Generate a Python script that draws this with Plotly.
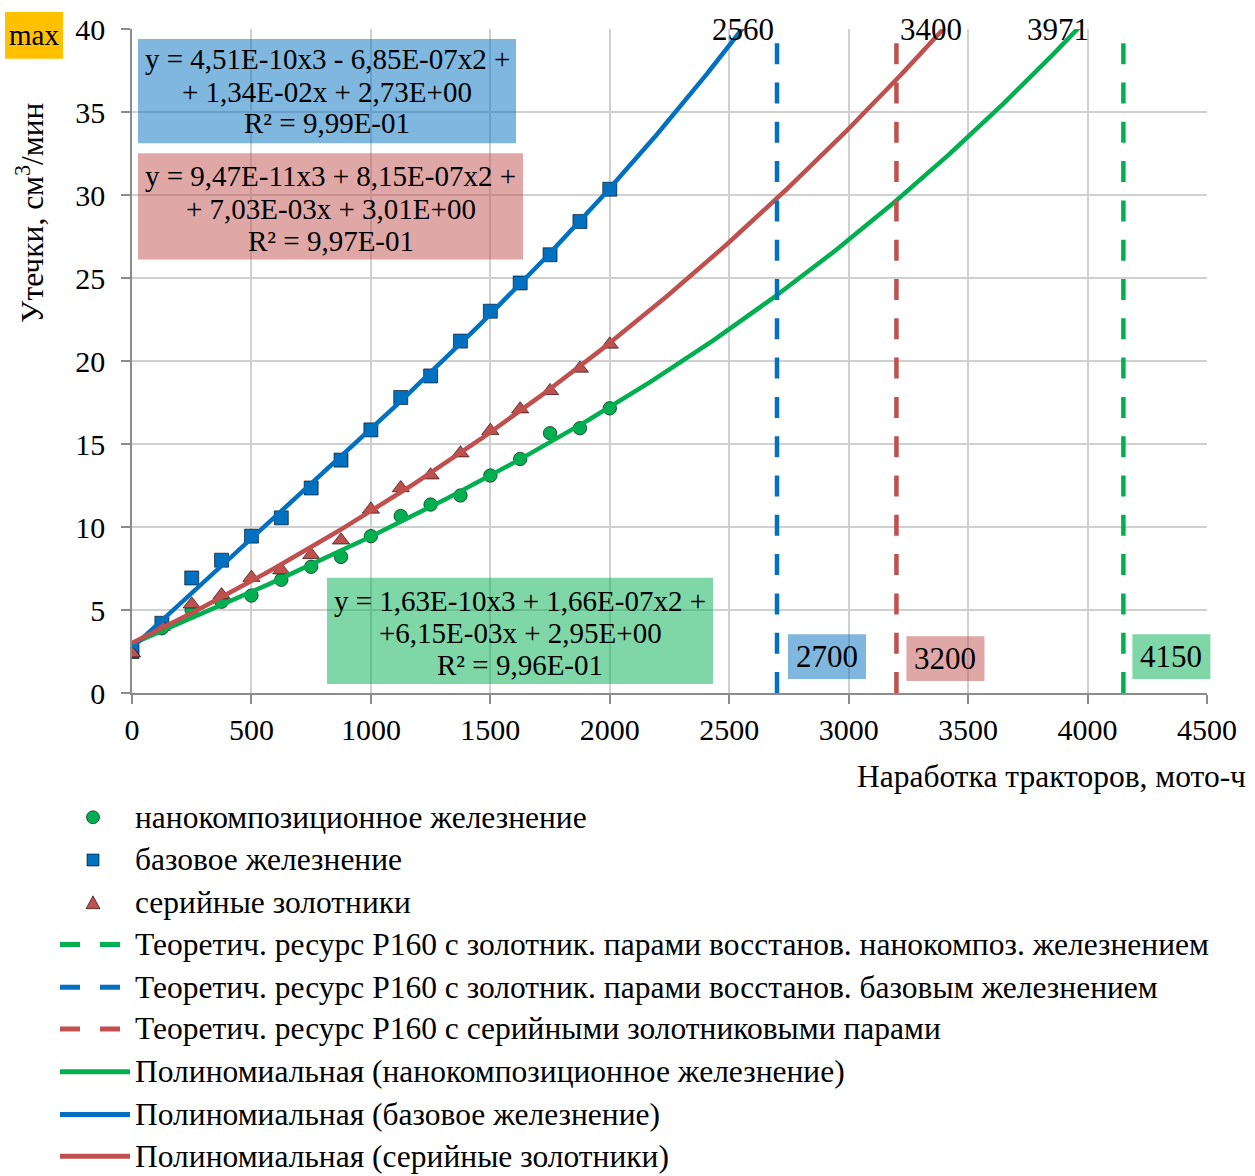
import numpy as np
import plotly.graph_objects as go

# Operating hours of the tractors at each inspection
hours = [0, 125, 250, 375, 500, 625, 750, 875, 1000, 1125, 1250, 1375, 1500, 1625, 1750, 1875, 2000]

# Leakage, cm3/min
leak_nano = [2.5, 3.9, 5.0, 5.5, 5.87, 6.82, 7.6, 8.2, 9.45, 10.66, 11.35, 11.9, 13.1, 14.1, 15.65, 15.95, 17.15]
leak_base = [2.5, 4.2, 6.93, 8.0, 9.45, 10.55, 12.35, 14.03, 15.85, 17.8, 19.1, 21.2, 23.0, 24.7, 26.4, 28.4, 30.35]
leak_serial = [2.4, 4.0, 5.35, 5.9, 6.95, 7.4, 8.32, 9.2, 11.06, 12.35, 13.12, 14.45, 15.8, 17.1, 18.2, 19.55, 21.0]

# Cubic trend coefficients (x^3, x^2, x, 1) as printed in the fit boxes
coef_nano = [1.63e-10, 1.66e-07, 6.15e-03, 2.95]
coef_base = [4.51e-10, -6.85e-07, 1.34e-02, 2.73]
coef_serial = [9.47e-11, 8.15e-07, 7.03e-03, 3.01]

# Hours at which each trend reaches the max leakage
end_nano, end_base, end_serial = 3971, 2560, 3400
# Theoretical resource of the P160 distributor
res_nano, res_base, res_serial = 4150, 2700, 3200
leak_max = 40

eq_base = ["y = 4,51E-10x3 - 6,85E-07x2 +", "+ 1,34E-02x + 2,73E+00", "R² = 9,99E-01"]
eq_serial = ["y = 9,47E-11x3 + 8,15E-07x2 +", "+ 7,03E-03x + 3,01E+00", "R² = 9,97E-01"]
eq_nano = ["y = 1,63E-10x3 + 1,66E-07x2 +", "+6,15E-03x + 2,95E+00", "R² = 9,96E-01"]

names_pts = ["нанокомпозиционное железнение", "базовое железнение", "серийные золотники"]
names_res = ["Теоретич. ресурс Р160 с золотник. парами восстанов. нанокомпоз. железнением",
             "Теоретич. ресурс Р160 с золотник. парами восстанов. базовым железнением",
             "Теоретич. ресурс Р160 с серийными золотниковыми парами"]
names_fit = ["Полиномиальная (нанокомпозиционное железнение)",
             "Полиномиальная (базовое железнение)",
             "Полиномиальная (серийные золотники)"]

GREEN, BLUE, RED = "#00B050", "#0070C0", "#C0504D"
FONT = "Liberation Serif, Times New Roman, serif"
W, H = 1255, 1176
L, R, T, B = 132, 1207, 25, 693
XMAX = 4500


def px(x):
    return (x - L) / (R - L)


def py(y):
    return (B - y) / (B - T)


def xpix(v):
    return L + v / XMAX * (R - L)


fig = go.Figure()

edge = dict(color="rgba(0,0,0,0.6)", width=1)
fig.add_trace(go.Scatter(x=hours, y=leak_nano, mode="markers", name=names_pts[0],
                         marker=dict(symbol="circle", size=13.5, color=GREEN, line=edge)))
fig.add_trace(go.Scatter(x=hours, y=leak_base, mode="markers", name=names_pts[1],
                         marker=dict(symbol="square", size=14, color=BLUE, line=edge)))
fig.add_trace(go.Scatter(x=hours, y=leak_serial, mode="markers", name=names_pts[2],
                         marker=dict(symbol="triangle-up", size=15, color=RED, line=edge)))

for coef, end, col, nm in [(coef_nano, end_nano, GREEN, names_fit[0]),
                           (coef_base, end_base, BLUE, names_fit[1]),
                           (coef_serial, end_serial, RED, names_fit[2])]:
    xs = np.linspace(0, end, 300)
    fig.add_trace(go.Scatter(x=xs, y=np.polyval(coef, xs), mode="lines", name=nm,
                             line=dict(color=col, width=4.5)))

for res, col, nm in [(res_nano, GREEN, names_res[0]), (res_base, BLUE, names_res[1]),
                     (res_serial, RED, names_res[2])]:
    fig.add_trace(go.Scatter(x=[res, res], y=[0, leak_max], mode="lines", name=nm,
                             line=dict(color=col, width=4.5, dash="21px,18.3px")))

shapes = []
ann = []


def text(x, y, s, size=29, xanchor="center", **kw):
    ann.append(dict(x=px(x), y=py(y), xref="paper", yref="paper", text=s, showarrow=False,
                    xanchor=xanchor, yanchor="middle", borderpad=0,
                    font=dict(family=FONT, size=size, color="black"), **kw))


def rect(x0, y0, x1, y1, fill):
    shapes.append(dict(type="rect", xref="paper", yref="paper", x0=px(x0), x1=px(x1),
                       y0=py(y1), y1=py(y0), fillcolor=fill, line=dict(width=0), layer="above"))


# Fit equation boxes
for (x0, y0, x1, y1), fill, lines, ys in [
        ((138, 35, 516, 140), "rgba(0,112,192,0.5)", eq_base, (55, 88, 120)),
        ((138, 150, 523, 257), "rgba(192,80,77,0.5)", eq_serial, (173, 206, 238)),
        ((327, 577, 713, 684), "rgba(0,176,80,0.5)", eq_nano, (600, 633, 665))]:
    rect(x0, y0, x1, y1, fill)
    for s, yy in zip(lines, ys):
        text((x0 + x1) / 2, yy, s)

# Resource labels next to the dashed lines
for res, fill, off, (y0, y1) in [(res_base, "rgba(0,112,192,0.5)", 11, (634, 679)),
                                 (res_serial, "rgba(192,80,77,0.5)", 10, (636, 681)),
                                 (res_nano, "rgba(0,176,80,0.5)", 9, (634, 679))]:
    x0 = xpix(res) + off
    rect(x0, y0, x0 + 78, y1, fill)
    text(x0 + 39, (y0 + y1) / 2, str(res), size=31)

# Hours where each trend hits the limit
for v, sh in [(end_base, -1), (end_serial, -13), (end_nano, -23)]:
    text(xpix(v) + sh, 26, str(v), size=31)

# "max" marker
rect(5, 8, 63, 55, "#FFC000")
text(34, 31, "max", size=29)

# Axis titles
text(30, 210, "Утечки, см<sup>3</sup>/мин", size=31.5, textangle=-90)
text(1247, 777, "Наработка тракторов, мото-ч", size=31.5, xanchor="right")

# Legend
rows = [818, 861, 904, 946, 989, 1031, 1074, 1117, 1159]
cx = 93
shapes.append(dict(type="circle", xref="paper", yref="paper", x0=px(cx - 6.5), x1=px(cx + 6.5),
                   y0=py(rows[0] + 6.5), y1=py(rows[0] - 6.5), fillcolor=GREEN,
                   line=dict(color="rgba(0,0,0,0.6)", width=1)))
shapes.append(dict(type="rect", xref="paper", yref="paper", x0=px(cx - 6), x1=px(cx + 6),
                   y0=py(rows[1] + 6), y1=py(rows[1] - 6), fillcolor=BLUE,
                   line=dict(color="rgba(0,0,0,0.6)", width=1)))
ty = rows[2]
shapes.append(dict(type="path", xref="paper", yref="paper",
                   path=f"M {px(cx - 7)},{py(ty + 6)} L {px(cx + 7)},{py(ty + 6)} L {px(cx)},{py(ty - 7)} Z",
                   fillcolor=RED, line=dict(color="rgba(0,0,0,0.6)", width=1)))
for i, s in enumerate(names_pts):
    text(134, rows[i], s, size=31.5, xanchor="left")

for i, (col, s) in enumerate(zip([GREEN, BLUE, RED], names_res)):
    yy = rows[3 + i]
    for a, b in [(60, 80), (100, 120)]:
        shapes.append(dict(type="line", xref="paper", yref="paper", x0=px(a), x1=px(b),
                           y0=py(yy), y1=py(yy), line=dict(color=col, width=5)))
    text(134, yy, s, size=31.5, xanchor="left")

for i, (col, s) in enumerate(zip([GREEN, BLUE, RED], names_fit)):
    yy = rows[6 + i]
    shapes.append(dict(type="line", xref="paper", yref="paper", x0=px(60), x1=px(130),
                       y0=py(yy), y1=py(yy), line=dict(color=col, width=5)))
    text(134, yy, s, size=31.5, xanchor="left")

axis = dict(showgrid=True, gridcolor="#D0D0D0", gridwidth=1.5, showline=True,
            linecolor="#8C8C8C", linewidth=1.5, ticks="outside", ticklen=9,
            tickcolor="#8C8C8C", tickwidth=1.5, zeroline=False,
            tickfont=dict(family=FONT, size=30, color="black"))

fig.update_layout(
    width=W, height=H,
    margin=dict(l=L, r=W - R, t=T, b=H - B),
    paper_bgcolor="white", plot_bgcolor="white",
    showlegend=False,
    xaxis=dict(range=[0, XMAX], dtick=500, tick0=0, **axis),
    yaxis=dict(range=[0, leak_max], dtick=5, tick0=0, ticklabelstandoff=10, **axis),
    shapes=shapes, annotations=ann,
    font=dict(family=FONT),
)

fig.write_html("out.html")
